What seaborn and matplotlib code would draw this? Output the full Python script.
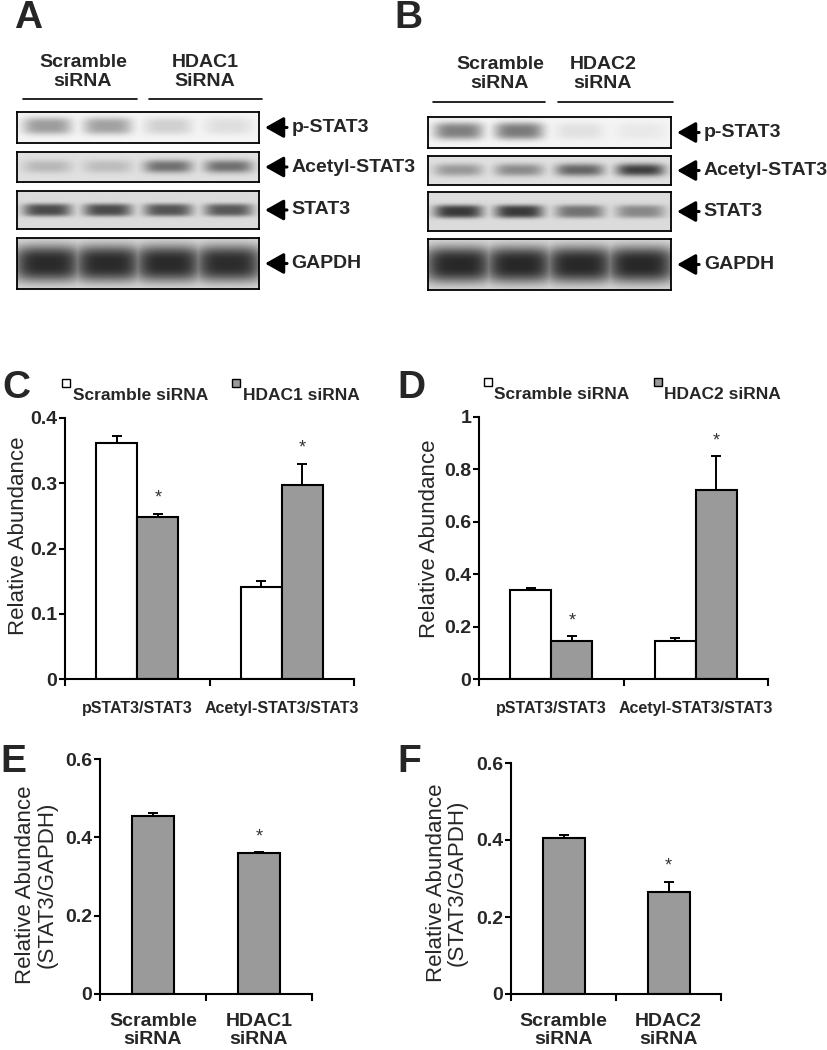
import numpy as np
import pandas as pd
import matplotlib
matplotlib.use("Agg")
import matplotlib.pyplot as plt
import seaborn as sns
from matplotlib.patches import Patch, Rectangle
from matplotlib.lines import Line2D
from matplotlib.legend_handler import HandlerPatch
from matplotlib.ticker import FuncFormatter, FixedLocator

# ---------------- data ----------------
blot_targets = ["p-STAT3", "Acetyl-STAT3", "STAT3", "GAPDH"]
# band darkness per lane (lanes 1-2 scramble siRNA, lanes 3-4 HDAC siRNA)
blotA_pstat3 = [0.36, 0.34, 0.15, 0.09]
blotA_acetyl = [0.18, 0.16, 0.50, 0.50]
blotA_stat3 = [0.66, 0.66, 0.62, 0.60]
blotA_gapdh = [0.81, 0.81, 0.81, 0.80]
blotB_pstat3 = [0.48, 0.50, 0.08, 0.05]
blotB_acetyl = [0.32, 0.38, 0.55, 0.72]
blotB_stat3 = [0.74, 0.74, 0.48, 0.38]
blotB_gapdh = [0.82, 0.82, 0.82, 0.82]

c_ratios = ["pSTAT3/STAT3", "Acetyl-STAT3/STAT3"]
c_scramble = [0.362, 0.141]
c_scramble_err = [0.010, 0.009]
c_hdac1 = [0.249, 0.298]
c_hdac1_err = [0.004, 0.032]

d_ratios = ["pSTAT3/STAT3", "Acetyl-STAT3/STAT3"]
d_scramble = [0.338, 0.145]
d_scramble_err = [0.010, 0.010]
d_hdac2 = [0.145, 0.722]
d_hdac2_err = [0.018, 0.128]

e_groups = ["Scramble\nsiRNA", "HDAC1\nsiRNA"]
e_values = [0.455, 0.360]
e_err = [0.007, 0.002]
e_sig = [False, True]

f_groups = ["Scramble\nsiRNA", "HDAC2\nsiRNA"]
f_values = [0.405, 0.265]
f_err = [0.008, 0.027]
f_sig = [False, True]

# ---------------- style ----------------
sns.set_theme(style="white")
plt.rcParams["font.family"] = ["Liberation Sans", "DejaVu Sans"]
GRAY = "#9a9a9a"

W, H = 827, 1050
fig = plt.figure(figsize=(W / 100, H / 100), dpi=100)


def rect(x0, y0, x1, y1):
    return [x0 / W, 1 - y1 / H, (x1 - x0) / W, (y1 - y0) / H]


# ---------------- blots ----------------
def draw_blot(ax, intens, bg, hw, yc, bh, ey, label):
    nx, ny = 480, 90
    x = np.linspace(0, 4, nx)
    y = np.linspace(0, 1, ny)
    X, Y = np.meshgrid(x, y)
    dark = np.zeros_like(X)
    for i, v in enumerate(intens):
        px = np.exp(-(np.abs(X - (i + 0.5)) / hw) ** 4)
        py = np.exp(-(np.abs(Y - yc) / bh) ** ey)
        dark = np.maximum(dark, v * px * py)
    img = 1 - (bg + (1 - bg) * dark)
    ax.imshow(img, cmap="gray", vmin=0, vmax=1, origin="lower",
              extent=(0, 4, 0, 1), aspect="auto", interpolation="bilinear")
    ax.set_xlim(0, 4)
    ax.set_ylim(0, 1)
    ax.set_xticks([])
    ax.set_yticks([])
    for s in ax.spines.values():
        s.set_visible(True)
        s.set_color("black")
        s.set_linewidth(1.3)
    ax.annotate(label, xy=(1.025, 0.5), xycoords="axes fraction",
                xytext=(1.135, 0.5), textcoords="axes fraction",
                ha="left", va="center", fontsize=14, fontweight="bold",
                arrowprops=dict(arrowstyle="-|>,head_width=0.45,head_length=0.8",
                                color="black", lw=2.2, mutation_scale=14,
                                shrinkA=1, shrinkB=0))


blot_style = {
    # bg, half width, y centre, half height, y exponent
    "p-STAT3": (0.04, 0.40, 0.55, 0.28, 3),
    "Acetyl-STAT3": (0.12, 0.40, 0.52, 0.22, 2.5),
    "STAT3": (0.14, 0.40, 0.50, 0.17, 3.5),
    "GAPDH": (0.13, 0.58, 0.50, 0.36, 3),
}

panels = {
    "A": dict(x0=17, x1=259,
              rows=[(112, 143), (152, 182), (191, 229), (238, 289)],
              data=[blotA_pstat3, blotA_acetyl, blotA_stat3, blotA_gapdh],
              heads=[(83, "Scramble\nsiRNA"), (205, "HDAC1\nSiRNA")],
              lines=[(23, 137), (149, 262)], ly=99, hy=72),
    "B": dict(x0=428, x1=671,
              rows=[(117, 148), (156, 185), (192, 231), (239, 290)],
              data=[blotB_pstat3, blotB_acetyl, blotB_stat3, blotB_gapdh],
              heads=[(500, "Scramble\nsiRNA"), (603, "HDAC2\nsiRNA")],
              lines=[(433, 545), (558, 673)], ly=102, hy=74),
}

for key, p in panels.items():
    for (y0, y1), vals, tgt in zip(p["rows"], p["data"], blot_targets):
        ax = fig.add_axes(rect(p["x0"], y0, p["x1"], y1))
        draw_blot(ax, vals, *blot_style[tgt], tgt)
    for xc, txt in p["heads"]:
        fig.text(xc / W, 1 - p["hy"] / H, txt,
                 ha="center", va="center", fontsize=14, fontweight="bold",
                 linespacing=1.1)
    for xa, xb in p["lines"]:
        fig.add_artist(Line2D([xa / W, xb / W], [1 - p["ly"] / H] * 2,
                              color="black", lw=1.2, transform=fig.transFigure))

# ---------------- bar charts ----------------
fmt = FuncFormatter(lambda v, pos: f"{v:g}")


def raised_square(legend, orig_handle, xdescent, ydescent, width, height, fontsize):
    s = width
    return Rectangle((-xdescent, -ydescent + height * 1.25), s, s)


def style_axes(ax, ymax, ystep, nx):
    sns.despine(ax=ax)
    for s in ("left", "bottom"):
        ax.spines[s].set_color("black")
        ax.spines[s].set_linewidth(1.5)
    ax.set_ylim(0, ymax)
    ax.set_yticks(np.arange(0, ymax + 1e-9, ystep))
    ax.yaxis.set_major_formatter(fmt)
    ax.set_xlim(-0.5, nx - 0.5)
    ax.xaxis.set_minor_locator(FixedLocator(np.arange(-0.5, nx, 1.0)))
    ax.tick_params(axis="x", which="major", length=0, pad=12)
    ax.tick_params(axis="x", which="minor", length=5, width=1.5,
                   direction="out", color="black", bottom=True)
    ax.tick_params(axis="y", length=4, width=1.5, direction="out",
                   color="black", left=True, pad=1.5)
    for t in ax.get_yticklabels():
        t.set_fontweight("bold")
        t.set_fontsize(14)
    ax.grid(False)
    ax.set_xlabel("")


def add_errors(ax, bars, vals, errs, sig):
    for b, v, e, s in zip(bars, vals, errs, sig):
        xc = b.get_x() + b.get_width() / 2
        ax.errorbar([xc], [v], yerr=[[0], [e]], fmt="none", ecolor="black",
                    elinewidth=1.4, capsize=3.6, capthick=1.4, zorder=5)
        if s:
            ax.annotate("*", xy=(xc, v + e), xytext=(0, 5),
                        textcoords="offset points", ha="center", va="bottom",
                        fontsize=13, color="#333333")


def grouped(ax, ratios, scr, scr_err, hd, hd_err, hd_label, ymax, ystep,
            leg_x, lab_xy):
    df = pd.DataFrame({
        "ratio": ratios * 2,
        "group": ["Scramble siRNA"] * len(ratios) + [hd_label] * len(ratios),
        "value": list(scr) + list(hd),
    })
    sns.barplot(data=df, x="ratio", y="value", hue="group",
                palette=["white", GRAY], edgecolor="black", linewidth=1.5,
                width=0.57, gap=0, errorbar=None, ax=ax)
    if ax.get_legend() is not None:
        ax.get_legend().remove()
    add_errors(ax, ax.containers[0], scr, scr_err, [False] * len(scr))
    add_errors(ax, ax.containers[1], hd, hd_err, [True] * len(hd))
    style_axes(ax, ymax, ystep, len(ratios))
    for t in ax.get_xticklabels():
        t.set_fontweight("bold")
        t.set_fontsize(11.5)
    ax.tick_params(axis="x", which="major", pad=16)
    ax.set_ylabel("Relative Abundance", fontsize=16, va="center")
    ax.yaxis.set_label_coords(*lab_xy)
    handles = [Patch(facecolor="white", edgecolor="black", lw=1),
               Patch(facecolor=GRAY, edgecolor="black", lw=1)]
    hm = {h: HandlerPatch(patch_func=raised_square) for h in handles}
    ax.legend(handles, ["Scramble siRNA", hd_label], ncol=2, frameon=False,
              loc="lower left", bbox_to_anchor=(leg_x, 1.03),
              handlelength=0.45, handleheight=0.45, handletextpad=0.15,
              columnspacing=1.4, borderaxespad=0.0, handler_map=hm,
              prop=dict(weight="bold", size=12.5))


axC = fig.add_axes(rect(65, 418, 354, 679))
grouped(axC, c_ratios, c_scramble, c_scramble_err, c_hdac1, c_hdac1_err,
        "HDAC1 siRNA", 0.4, 0.1, -0.034, (-0.162, 0.55))
axD = fig.add_axes(rect(479, 417, 768, 679))
grouped(axD, d_ratios, d_scramble, d_scramble_err, d_hdac2, d_hdac2_err,
        "HDAC2 siRNA", 1.0, 0.2, -0.007, (-0.172, 0.534))


def single(ax, groups, vals, errs, sig, lab_xy):
    df = pd.DataFrame({"group": groups, "value": vals})
    sns.barplot(data=df, x="group", y="value", color=GRAY, edgecolor="black",
                linewidth=1.5, width=0.4, errorbar=None, ax=ax)
    for b in ax.patches:
        b.set_facecolor(GRAY)
    add_errors(ax, ax.containers[0], vals, errs, sig)
    style_axes(ax, 0.6, 0.2, len(groups))
    for t in ax.get_xticklabels():
        t.set_fontweight("bold")
        t.set_fontsize(14)
        t.set_linespacing(1.05)
    ax.tick_params(axis="x", which="major", pad=14)
    ax.set_ylabel("Relative Abundance\n(STAT3/GAPDH)", fontsize=16,
                  linespacing=1.0, va="center")
    ax.yaxis.set_label_coords(*lab_xy)


axE = fig.add_axes(rect(100, 759, 312, 994))
single(axE, e_groups, e_values, e_err, e_sig, (-0.30, 0.464))
axF = fig.add_axes(rect(511, 763, 721, 994))
single(axF, f_groups, f_values, f_err, f_sig, (-0.305, 0.48))

# ---------------- panel letters ----------------
for letter, (px, py) in {"A": (14, 18), "B": (394, 18), "C": (2, 388),
                         "D": (397, 388), "E": (0, 762), "F": (397, 762)}.items():
    fig.text(px / W, 1 - py / H, letter, fontsize=28, fontweight="bold",
             ha="left", va="center")

fig.savefig("out.png", dpi=100)
